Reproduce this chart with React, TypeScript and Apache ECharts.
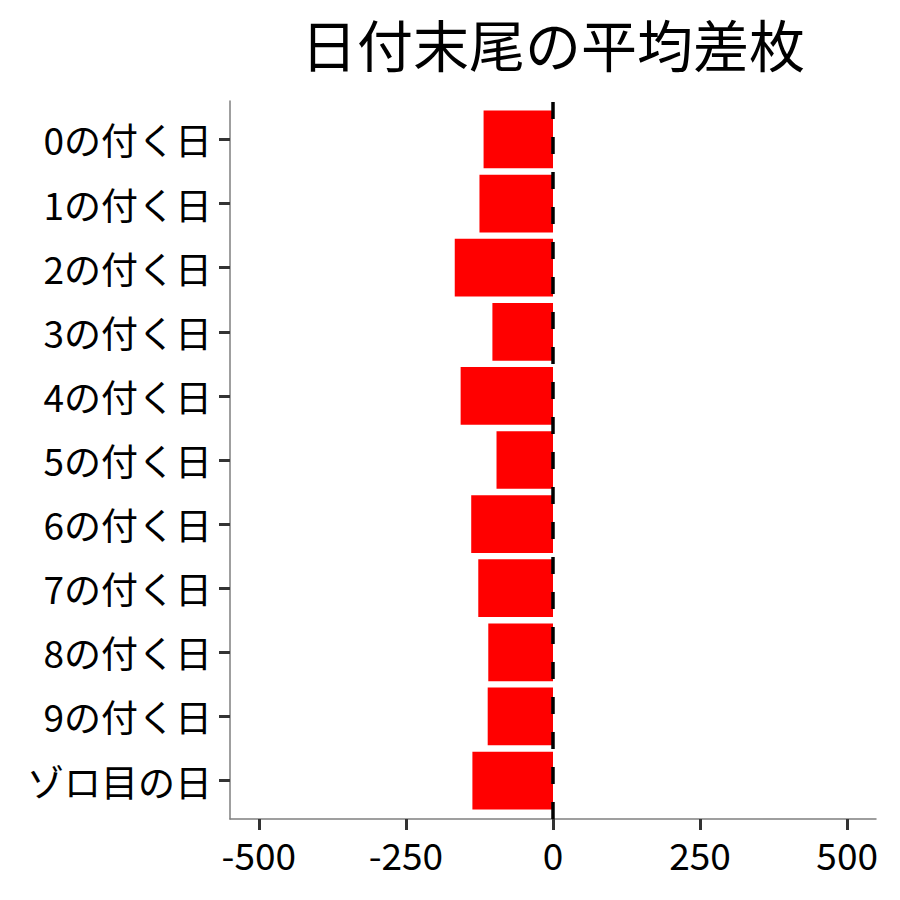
import React, { useEffect, useRef } from "react";
import * as echarts from "echarts";

const categories = [
  "0の付く日",
  "1の付く日",
  "2の付く日",
  "3の付く日",
  "4の付く日",
  "5の付く日",
  "6の付く日",
  "7の付く日",
  "8の付く日",
  "9の付く日",
  "ゾロ目の日",
];
const avgDiff = [-118, -125, -167, -103, -157, -96, -139, -127, -110, -111, -137];
const xTicks = [-500, -250, 0, 250, 500];

const FONT = "Noto Sans CJK JP";

const App: React.FC = () => {
  const chartRef = useRef<HTMLDivElement>(null);

  useEffect(() => {
    if (!chartRef.current) return;

    const myChart = echarts.init(chartRef.current, undefined, { renderer: "svg" });
    const idx = categories.map((_, i) => i);

    const option = {
      animation: false,
      title: {
        text: "日付末尾の平均差枚",
        left: 548,
        top: 9,
        textAlign: "center",
        textStyle: { fontFamily: FONT, fontSize: 56, fontWeight: "normal", color: "#000" },
      },
      grid: { left: 230, right: 24, top: 101, bottom: 81 },
      xAxis: {
        type: "value",
        min: -549,
        max: 549,
        splitLine: { show: false },
        axisLine: { show: true, onZero: false, lineStyle: { color: "#7f7f7f", width: 1.5 } },
        axisTick: {
          show: true,
          length: 11,
          customValues: xTicks,
          lineStyle: { color: "#333", width: 3 },
        },
        axisLabel: {
          customValues: xTicks,
          margin: 16,
          fontFamily: FONT,
          fontSize: 37,
          color: "#000",
        },
      },
      yAxis: {
        type: "value",
        inverse: true,
        min: -0.6,
        max: categories.length - 0.4,
        splitLine: { show: false },
        axisLine: { show: true, onZero: false, lineStyle: { color: "#7f7f7f", width: 1.5 } },
        axisTick: {
          show: true,
          length: 11,
          customValues: idx,
          lineStyle: { color: "#333", width: 3 },
        },
        axisLabel: {
          customValues: idx,
          margin: 18,
          fontFamily: FONT,
          fontSize: 37,
          color: "#000",
          formatter: (v: number) => categories[Math.round(v)] ?? "",
        },
      },
      series: [
        {
          type: "custom",
          encode: { x: 0, y: 1 },
          data: avgDiff.map((v, i) => [v, i]),
          renderItem: (_params: any, api: any) => {
            const v = api.value(0);
            const i = api.value(1);
            const p0 = api.coord([0, i]);
            const p1 = api.coord([v, i]);
            const h = api.size([0, 0.9])[1];
            return {
              type: "rect",
              shape: {
                x: Math.min(p0[0], p1[0]),
                y: p0[1] - h / 2,
                width: Math.abs(p1[0] - p0[0]),
                height: h,
              },
              style: { fill: "#ff0000" },
            };
          },
          z: 2,
        },
        {
          type: "line",
          data: [
            [0, categories.length - 0.4],
            [0, -0.6],
          ],
          symbol: "none",
          lineStyle: { color: "#000", width: 3.5, type: [17, 18] },
          z: 5,
        },
      ],
    };

    myChart.setOption(option as any);

    return () => {
      myChart.dispose();
    };
  }, []);

  return (
    <div
      ref={chartRef}
      style={{ position: "fixed", left: 0, top: 0, width: "900px", height: "900px", background: "#fff" }}
    />
  );
};

export default App;
